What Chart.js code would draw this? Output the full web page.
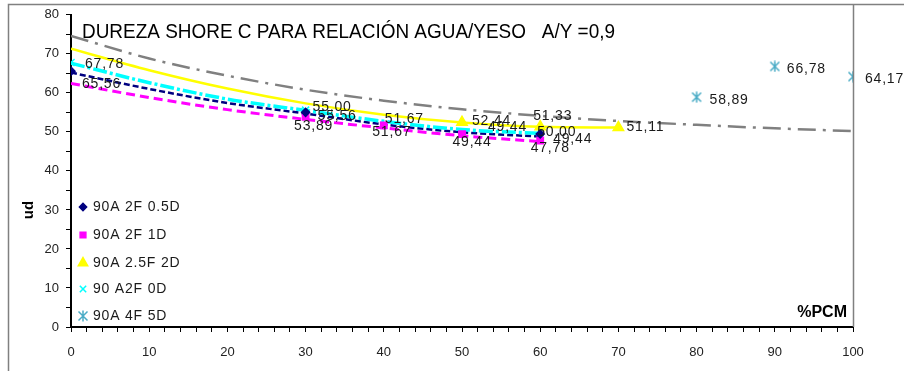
<!DOCTYPE html>
<html>
<head>
<meta charset="utf-8">
<script src="https://cdn.jsdelivr.net/npm/chart.js@4"></script>
<style>body{margin:0;background:#fff}</style>
</head>
<body>
<canvas id="durezaChart" width="904" height="371"></canvas>
<script>
// puntos medidos (%PCM -> dureza ud)
var pcm05 = [0, 30, 60];
var ud05 = [65.56, 55.00, 49.44];
var pcm1 = [30, 40, 50, 60];
var ud1 = [53.89, 51.67, 49.44, 47.78];
var pcm25 = [50, 60, 70];
var ud25 = [52.44, 51.33, 51.11];
var pcm0 = [0, 30, 40, 50, 60];
var ud0 = [67.78, 55.56, 51.67, 49.44, 50.00];
var pcm4 = [80, 90, 100];
var ud4 = [58.89, 66.78, 64.17];

// lineas de tendencia
var trendX = [0, 10, 20, 30, 40, 50, 60, 70, 80, 90, 100];
var trend05 = [65.2, 61.0, 57.4, 54.7, 51.9, 49.9, 48.8];
var trend1 = [62.4, 58.8, 55.7, 53.2, 51.0, 49.0, 47.5];
var trend25 = [71.3, 65.8, 61.1, 57.3, 54.4, 52.4, 51.3, 51.1];
var trend0 = [67.6, 62.6, 58.4, 55.5, 52.7, 50.6, 49.6];
var trend4 = [74.6, 68.8, 64.4, 60.8, 58.0, 55.8, 54.1, 52.8, 51.8, 50.9, 50.2];

var yTicks = [0, 10, 20, 30, 40, 50, 60, 70, 80];
var xTicks = [0, 10, 20, 30, 40, 50, 60, 70, 80, 90, 100];

var labelFont = '14px "Liberation Sans", Arial, sans-serif';

function pts(xs, ys) {
    return ys.map(function (v, i) { return { x: xs[i], y: v }; });
}

// marcador asterisco (X con linea vertical)
var star = document.createElement('canvas');
star.width = 12; star.height = 12;
var sc = star.getContext('2d');
sc.strokeStyle = '#4bacc6';
sc.lineWidth = 1.5;
sc.beginPath();
sc.moveTo(1.5, 1.5); sc.lineTo(10.5, 10.5);
sc.moveTo(10.5, 1.5); sc.lineTo(1.5, 10.5);
sc.moveTo(6, 0.5); sc.lineTo(6, 11.5);
sc.stroke();

function trend(xs, ys, color, width, dash) {
    return {
        data: pts(xs, ys), showLine: true, borderColor: color, borderWidth: width,
        borderDash: dash, pointRadius: 0, cubicInterpolationMode: 'monotone', order: 2, isTrend: true
    };
}

function marker(label, xs, ys, color, style, radius, offs, align) {
    return {
        label: label, data: pts(xs, ys), showLine: false, pointStyle: style,
        pointRadius: radius, backgroundColor: color, borderColor: color, borderWidth: 1.5,
        order: 0, offs: offs, align: align || 'left'
    };
}

var datasets = [
    trend(trendX, trend4, '#808080', 2.5, [18, 7, 3, 7]),
    trend(trendX, trend25, '#ffff00', 2.5, []),
    trend(trendX, trend0, '#00ffff', 3.5, [14, 3, 3, 3]),
    trend(trendX, trend05, '#000080', 2.5, [6, 3]),
    trend(trendX, trend1, '#ff00ff', 3, [9, 5]),
    marker('90A 2F 0.5D', pcm05, ud05, '#000080', 'rectRot', 4, [[11, 13], [7, -5], [13, 5]]),
    marker('90A 2F 1D', pcm1, ud1, '#ff00ff', 'rect', 4.5, [[8, 9], [8, 7], [10, 8], [10, 8]], 'center'),
    marker('90A 2.5F 2D', pcm25, ud25, '#ffff00', 'triangle', 6, [[10, -1], [-7, -11], [8, 0]]),
    marker('90 A2F 0D', pcm0, ud0, '#00ffff', 'crossRot', 5, [[14, 2], [12, 6], [1, -6], [26, -7], [-3, 0]]),
    marker('90A 4F 5D', pcm4, ud4, '#4bacc6', star, 6, [[13, 3], [12, 3], [12, 3]])
];

var extras = {
    id: 'extras',
    afterDatasetsDraw: function (chart) {
        var c = chart.ctx;
        var xs = chart.scales.x, ys = chart.scales.y;
        c.save();
        // marco
        c.strokeStyle = '#808080';
        c.lineWidth = 1.5;
        c.beginPath();
        c.moveTo(8.5, 371); c.lineTo(8.5, 4.5); c.lineTo(904, 4.5);
        c.moveTo(853.5, 4.5); c.lineTo(853.5, chart.chartArea.bottom);
        c.stroke();

        // etiquetas de datos
        c.font = labelFont;
        c.letterSpacing = '0.8px';
        c.fillStyle = '#1a1a1a';
        c.textBaseline = 'middle';
        chart.data.datasets.forEach(function (ds) {
            if (ds.isTrend) return;
            ds.data.forEach(function (p, i) {
                var px = xs.getPixelForValue(p.x), py = ys.getPixelForValue(p.y);
                var o = ds.offs[i];
                c.textAlign = ds.align;
                c.fillText(p.y.toFixed(2).replace('.', ','), px + o[0], py + o[1]);
            });
        });

        // leyenda
        var legY = [207, 235, 263, 289, 316];
        c.textAlign = 'left';
        chart.data.datasets.filter(function (d) { return !d.isTrend; }).forEach(function (ds, i) {
            c.fillStyle = ds.backgroundColor;
            c.strokeStyle = ds.borderColor;
            c.lineWidth = 1.5;
            c.setLineDash([]);
            Chart.helpers.drawPoint(c, {
                pointStyle: ds.pointStyle, radius: ds.pointRadius * 0.9, borderWidth: 1.5
            }, 83, legY[i]);
            c.fillStyle = '#1a1a1a';
            c.fillText(ds.label, 93, legY[i]);
        });

        // titulo
        var title = 'DUREZA SHORE C PARA RELACIÓN AGUA/YESO   A/Y =0,9';
        c.letterSpacing = '0px';
        c.font = '21px "Liberation Sans", Arial, sans-serif';
        var w = c.measureText(title).width;
        c.save();
        c.translate(82, 32);
        c.scale(533 / w, 1);
        c.fillStyle = '#000';
        c.fillText(title, 0, 0);
        c.restore();

        c.font = 'bold 16px "Liberation Sans", Arial, sans-serif';
        c.textAlign = 'right';
        c.fillStyle = '#000';
        c.fillText('%PCM', 847, 313);

        c.save();
        c.translate(29, 210);
        c.rotate(-Math.PI / 2);
        c.textAlign = 'center';
        c.font = 'bold 15px "Liberation Sans", Arial, sans-serif';
        c.fillText('ud', 0, 0);
        c.restore();
        c.restore();
    }
};

var myChart = new Chart(document.getElementById('durezaChart').getContext('2d'), {
    type: 'scatter',
    data: { datasets: datasets },
    options: {
        responsive: false,
        animation: false,
        devicePixelRatio: 1,
        layout: { padding: { top: 14, right: 51, left: 0, bottom: 0 } },
        plugins: { legend: { display: false }, tooltip: { enabled: false } },
        scales: {
            x: {
                type: 'linear', min: 0, max: 100,
                afterFit: function (s) { s.height = 44; },
                afterBuildTicks: function (s) {
                    var t = [];
                    for (var v = 0; v <= 100; v += 2) t.push({ value: v });
                    s.ticks = t;
                },
                border: { color: '#000', width: 2 },
                grid: { drawOnChartArea: false, tickLength: 5, color: '#000', lineWidth: 1 },
                ticks: {
                    autoSkip: false, maxRotation: 0, padding: 13, color: '#222',
                    font: { family: '"Liberation Sans", Arial, sans-serif', size: 13 },
                    callback: function (v) { return xTicks.indexOf(v) >= 0 ? String(v) : ''; }
                }
            },
            y: {
                min: 0, max: 80,
                afterFit: function (s) { s.width = 71; },
                afterBuildTicks: function (s) {
                    var t = [];
                    for (var v = 0; v <= 80; v += 5) t.push({ value: v });
                    s.ticks = t;
                },
                border: { color: '#000', width: 2 },
                grid: { drawOnChartArea: false, tickLength: 5, color: '#000', lineWidth: 1 },
                ticks: {
                    autoSkip: false, padding: 7, color: '#222',
                    font: { family: '"Liberation Sans", Arial, sans-serif', size: 13 },
                    callback: function (v) { return yTicks.indexOf(v) >= 0 ? String(v) : ''; }
                }
            }
        }
    },
    plugins: [extras]
});
</script>
</body>
</html>
